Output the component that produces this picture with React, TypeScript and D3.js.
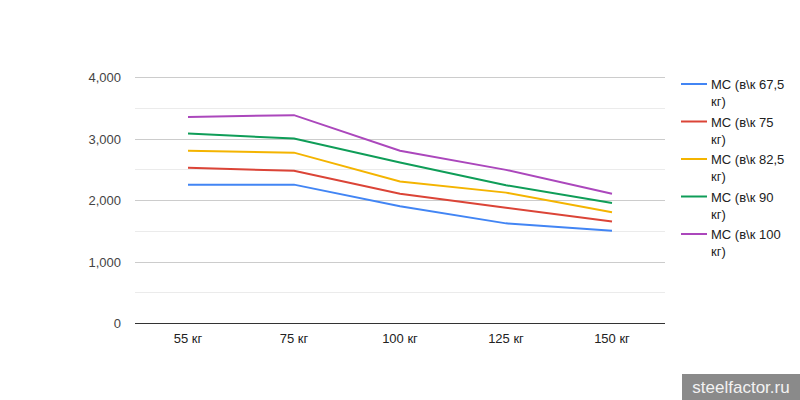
import React from "react";
import * as d3 from "d3";

const categories = ["55 кг", "75 кг", "100 кг", "125 кг", "150 кг"];
const seriesNames = ["МС (в\\к 67,5 кг)", "МС (в\\к 75 кг)", "МС (в\\к 82,5 кг)", "МС (в\\к 90 кг)", "МС (в\\к 100 кг)"];
const legendLines = [
  ["МС (в\\к 67,5", "кг)"],
  ["МС (в\\к 75", "кг)"],
  ["МС (в\\к 82,5", "кг)"],
  ["МС (в\\к 90", "кг)"],
  ["МС (в\\к 100", "кг)"],
];
const s675 = [2250, 2250, 1900, 1620, 1500];
const s75 = [2525, 2475, 2100, 1875, 1650];
const s825 = [2800, 2770, 2300, 2120, 1800];
const s90 = [3080, 3000, 2610, 2240, 1950];
const s100 = [3350, 3380, 2800, 2490, 2100];
const seriesValues = [s675, s75, s825, s90, s100];
const colors = ["#4285f4", "#db4437", "#f4b400", "#0f9d58", "#ab47bc"];
const yTicks = [0, 1000, 2000, 3000, 4000];
const yMinor = [500, 1500, 2500, 3500];

export default function App() {
  const W = 800, H = 400;
  const left = 135, right = 665, top = 77, bottom = 323;
  const x = d3.scalePoint<string>().domain(categories).range([left, right]).padding(0.5);
  const y = d3.scaleLinear().domain([0, 4000]).range([bottom, top]);
  const line = d3.line<number>().x((_, i) => x(categories[i])!).y((d) => y(d));
  const fmt = d3.format(",");
  const font = "'Liberation Sans', Arial, sans-serif";
  return (
    <svg width={W} height={H} style={{ position: "absolute", left: 0, top: 0, background: "#fff" }} fontFamily={font}>
      {yMinor.map((t) => (
        <line key={"m" + t} x1={left} x2={right} y1={Math.round(y(t)) + 0.5} y2={Math.round(y(t)) + 0.5} stroke="#ebebeb" />
      ))}
      {yTicks.map((t) => (
        <g key={t}>
          <line x1={left} x2={right} y1={Math.round(y(t)) + 0.5} y2={Math.round(y(t)) + 0.5} stroke={t === 0 ? "#333" : "#cccccc"} />
          <text x={121} y={y(t) + 5} textAnchor="end" fontSize={13} fill="#444">{fmt(t)}</text>
        </g>
      ))}
      {categories.map((c) => (
        <text key={c} x={x(c)!} y={343} textAnchor="middle" fontSize={13} fill="#222">{c}</text>
      ))}
      {seriesValues.map((vals, i) => (
        <path key={seriesNames[i]} d={line(vals)!} fill="none" stroke={colors[i]} strokeWidth={2} />
      ))}
      {legendLines.map((ls, i) => {
        const yy = 84 + i * 37.5;
        return (
          <g key={i}>
            <line x1={681} x2={707} y1={yy} y2={yy} stroke={colors[i]} strokeWidth={2} />
            <text x={711} y={yy + 5} fontSize={13} fill="#222">{ls[0]}</text>
            <text x={711} y={yy + 22} fontSize={13} fill="#222">{ls[1]}</text>
          </g>
        );
      })}
      <rect x={682} y={374} width={118} height={26} fill="#8a8a8a" />
      <text x={741} y={393} textAnchor="middle" fontSize={17} fill="#f2f2f2">steelfactor.ru</text>
    </svg>
  );
}
